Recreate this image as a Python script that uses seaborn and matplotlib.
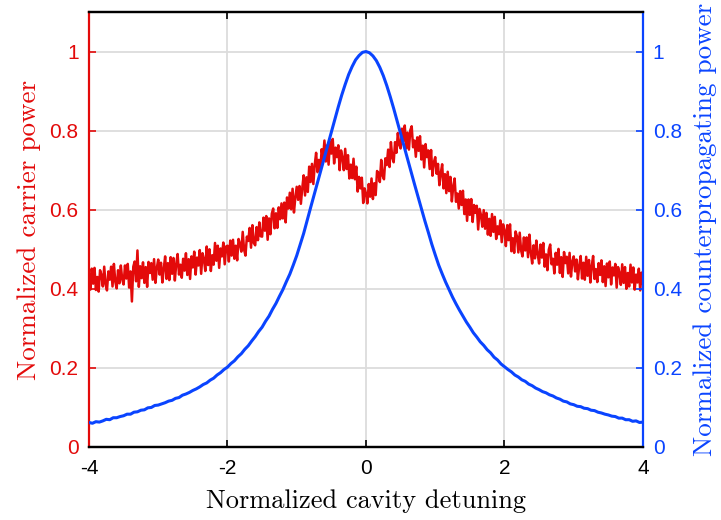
import numpy as np
import pandas as pd
import matplotlib
matplotlib.use("Agg")
import matplotlib.pyplot as plt
import seaborn as sns

# Carrier power (x1000), one sample every 0.02 in detuning from -4 to 4; one row per 0.5
carrier_power_milli = [
    438, 398, 451, 413, 453, 397, 430, 393, 447, 435, 406, 456, 411, 396, 444, 423, 456, 406, 463, 418, 401, 447, 414, 459, 424,
    411, 459, 426, 463, 403, 444, 368, 456, 469, 419, 497, 405, 457, 427, 467, 415, 455, 405, 468, 440, 465, 423, 475, 415, 453,
    474, 436, 466, 416, 451, 482, 425, 465, 422, 480, 438, 478, 421, 463, 488, 436, 461, 428, 476, 446, 490, 435, 475, 425, 482,
    454, 494, 436, 479, 459, 498, 438, 490, 475, 445, 507, 460, 500, 445, 485, 461, 516, 471, 509, 453, 502, 482, 517, 462, 507,
    509, 469, 522, 484, 524, 476, 509, 472, 526, 514, 494, 544, 499, 484, 532, 521, 554, 504, 561, 516, 510, 556, 523, 568, 533,
    532, 580, 547, 584, 524, 578, 538, 590, 603, 553, 591, 554, 606, 576, 616, 578, 618, 568, 631, 603, 643, 601, 653, 593, 631,
    658, 625, 660, 615, 655, 687, 636, 682, 645, 709, 670, 716, 665, 713, 744, 695, 726, 699, 753, 729, 775, 722, 763, 714, 773,
    742, 779, 717, 757, 733, 763, 700, 750, 732, 700, 754, 703, 738, 679, 714, 680, 729, 677, 709, 646, 683, 654, 681, 617, 654,
    640, 616, 665, 633, 679, 627, 667, 637, 698, 693, 670, 726, 686, 677, 730, 713, 752, 708, 771, 732, 720, 771, 744, 794, 765,
    755, 805, 774, 813, 755, 795, 752, 801, 811, 758, 775, 734, 783, 749, 786, 727, 762, 707, 766, 733, 750, 703, 751, 686, 720,
    733, 691, 716, 662, 692, 715, 654, 690, 642, 696, 647, 683, 621, 659, 679, 620, 641, 603, 647, 612, 648, 589, 626, 572, 626,
    587, 627, 569, 612, 592, 610, 550, 602, 587, 557, 599, 552, 592, 537, 577, 534, 589, 544, 582, 526, 558, 538, 573, 518, 563,
    548, 508, 561, 523, 563, 495, 528, 491, 545, 533, 492, 542, 497, 482, 530, 497, 530, 480, 537, 492, 464, 510, 477, 522, 487,
    464, 512, 479, 516, 456, 487, 447, 499, 512, 462, 476, 439, 491, 461, 501, 440, 480, 430, 493, 465, 481, 439, 491, 431, 469,
    482, 444, 474, 424, 459, 483, 426, 466, 423, 481, 433, 473, 416, 458, 483, 425, 450, 417, 465, 435, 472, 417, 457, 407, 464,
    429, 469, 411, 454, 434, 463, 403, 455, 440, 410, 462, 415, 455, 400, 440, 406, 461, 416, 454, 398, 436, 416, 451, 396, 441,
    412,
]

# Counterpropagating power (x1000), one sample every 0.05 in detuning from -4 to 4
counter_power_milli = [
    62, 60, 64, 63, 66, 70, 69, 74, 74, 77,
    79, 83, 83, 88, 89, 93, 94, 99, 100, 105,
    106, 109, 112, 116, 118, 123, 125, 131, 134, 138,
    143, 147, 152, 158, 162, 169, 174, 182, 188, 196,
    202, 211, 218, 228, 236, 247, 256, 268, 279, 292,
    303, 318, 331, 348, 363, 381, 398, 418, 437, 460,
    484, 512, 540, 573, 605, 637, 669, 701, 733, 765,
    797, 829, 860, 890, 917, 942, 962, 979, 990, 998,
    1000, 997, 989, 977, 960, 939, 914, 886, 856, 824,
    792, 760, 728, 697, 665, 634, 603, 572, 543, 513,
    486, 460, 438, 417, 398, 379, 362, 346, 331, 316,
    303, 289, 278, 266, 257, 246, 238, 227, 220, 210,
    203, 196, 190, 182, 177, 170, 166, 159, 155, 149,
    145, 140, 137, 132, 129, 124, 121, 116, 114, 109,
    107, 103, 102, 98, 97, 93, 92, 88, 86, 83,
    81, 78, 77, 73, 73, 69, 69, 65, 66, 62,
    63,
]

x_ticks = [-4, -2, 0, 2, 4]
x_tick_labels = ["-4", "-2", "0", "2", "4"]
y_ticks = [0, 0.2, 0.4, 0.6, 0.8, 1.0]
y_tick_labels = ["0", "0.2", "0.4", "0.6", "0.8", "1"]

carrier_power = np.array(carrier_power_milli) / 1000.0
counter_power = np.array(counter_power_milli) / 1000.0
carrier_detuning = np.linspace(-4, 4, len(carrier_power))
counter_detuning = np.linspace(-4, 4, len(counter_power))

RED = "#e30a0a"
BLUE = "#0a44ff"

sns.set_style("white")
plt.rcParams["font.family"] = ["Liberation Sans", "DejaVu Sans"]

fig = plt.figure(figsize=(7.21, 5.2), dpi=100)
ax = fig.add_axes([0.1234, 0.1404, 0.7684, 0.8365])
ax2 = ax.twinx()

carrier_df = pd.DataFrame({"detuning": carrier_detuning, "power": carrier_power})
counter_df = pd.DataFrame({"detuning": counter_detuning, "power": counter_power})

# grid lines drawn on the left axes, beneath both traces
ax.set_axisbelow(True)
ax.grid(True, color="#dcdcdc", linewidth=1.3)

sns.lineplot(data=carrier_df, x="detuning", y="power", ax=ax, color=RED,
             linewidth=1.8, estimator=None, sort=False, zorder=3)
sns.lineplot(data=counter_df, x="detuning", y="power", ax=ax2, color=BLUE,
             linewidth=2.2, estimator=None, sort=False, zorder=3)

for a in (ax, ax2):
    a.set_xlim(-4, 4)
    a.set_ylim(0, 1.1)
    a.set_yticks(y_ticks)
    a.set_yticklabels(y_tick_labels)

ax.set_xticks(x_ticks)
ax.set_xticklabels(x_tick_labels)

# blue trace above the red one, grid stays behind both
ax.set_zorder(1)
ax2.set_zorder(2)
ax2.patch.set_visible(False)

tick_font = 15
ax.tick_params(axis="x", direction="in", length=5, width=1.2, colors="black",
               labelsize=tick_font, top=True, bottom=True, pad=9)
ax.tick_params(axis="y", direction="in", length=5, width=1.2, colors=RED,
               labelsize=tick_font, left=True, right=False, pad=7.5)
ax2.tick_params(axis="y", direction="in", length=5, width=1.2, colors=BLUE,
                labelsize=tick_font, right=True, left=False, pad=7)
ax2.tick_params(axis="x", top=False, bottom=False)

for a in (ax, ax2):
    for side in ("top", "bottom"):
        a.spines[side].set_color("black")
        a.spines[side].set_linewidth(1.6)
    a.spines["left"].set_color(RED)
    a.spines["right"].set_color(BLUE)
    a.spines["left"].set_linewidth(1.6)
    a.spines["right"].set_linewidth(1.6)
ax2.spines["left"].set_visible(False)
ax.spines["right"].set_visible(False)

serif = ["cmr10", "DejaVu Serif"]
ax.set_xlabel("Normalized cavity detuning", family=serif, fontsize=19, color="black", labelpad=8)
ax.set_ylabel("Normalized carrier power", family=serif, fontsize=19.5, color=RED, labelpad=6)
ax2.set_ylabel("Normalized counterpropagating power", family=serif, fontsize=19.5, color=BLUE,
               labelpad=8)

fig.savefig("out.png", dpi=100, facecolor="white")
